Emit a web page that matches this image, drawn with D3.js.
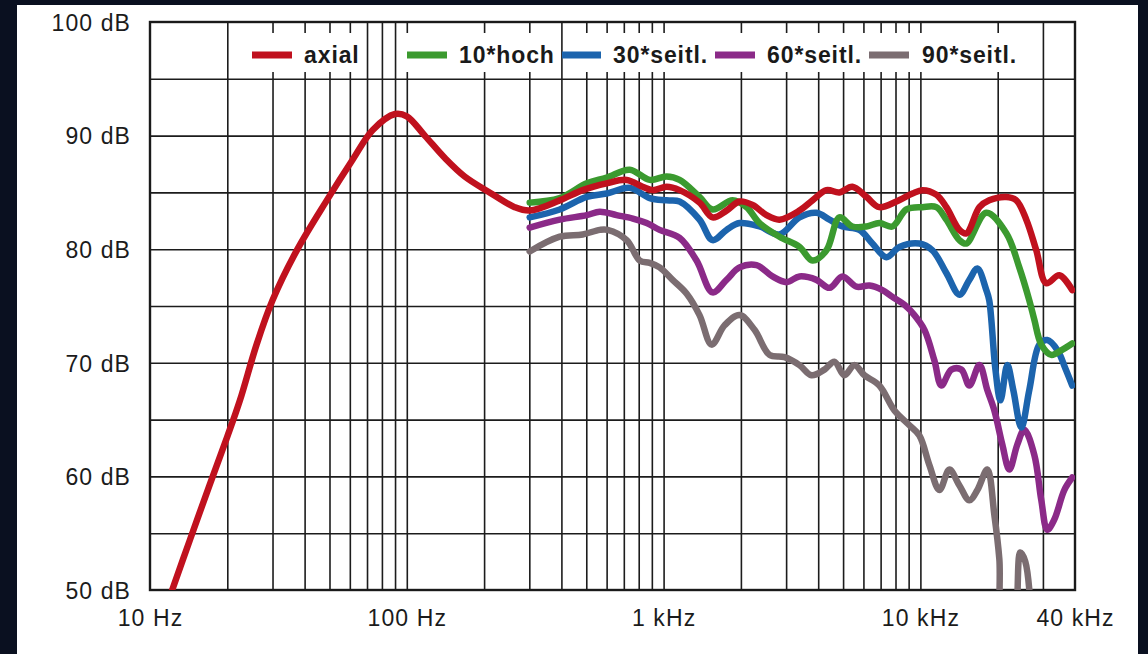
<!DOCTYPE html>
<html><head><meta charset="utf-8">
<script src="https://cdn.jsdelivr.net/npm/d3@7"></script>
<style>
html,body{margin:0;padding:0;background:#0a1020;}
svg{display:block;}
</style></head>
<body>
<svg id="chart" width="1148" height="654"></svg>
<script>
// ---------- data ----------
const xTickValues = [10, 100, 1000, 10000, 40000];
const xTickLabels = ["10 Hz", "100 Hz", "1 kHz", "10 kHz", "40 kHz"];
const yTickValues = [100, 90, 80, 70, 60, 50];
const yTickLabels = ["100 dB", "90 dB", "80 dB", "70 dB", "60 dB", "50 dB"];
const xGridValues = [20,30,40,50,60,70,80,90,100,200,300,400,500,600,700,800,900,1000,2000,3000,4000,5000,6000,7000,8000,9000,10000,20000,30000];
const yGridValues = [55,60,65,70,75,80,85,90,95];
const seriesNames = ["axial", "10*hoch", "30*seitl.", "60*seitl.", "90*seitl."];

const axial = [[12.2,50],[14.3,54.4],[17.1,59.3],[20,63.5],[22.4,66.7],[26,71.6],[30,75.5],[37.3,79.9],[48.8,84.3],[61.6,87.9],[73.7,90.5],[90,91.9],[100,91.7],[117.5,90.0],[141,88.0],[168,86.4],[210,85.0],[263,83.7],[301,83.4],[394,84.3],[484,85.2],[600,85.8],[718,86.1],[828,85.5],[906,85.2],[1028,85.5],[1154,85.2],[1380,84.1],[1552,82.8],[1758,83.4],[1976,84.2],[2220,83.9],[2516,83.0],[2826,82.6],[3381,83.4],[3800,84.3],[4307,85.2],[4840,85.0],[5435,85.5],[6166,84.6],[6920,83.7],[8070,84.2],[9311,84.9],[10186,85.2],[11535,84.8],[12620,83.7],[14190,81.7],[15100,81.4],[16980,83.7],[18540,84.3],[21610,84.6],[23640,84.3],[25850,82.6],[28270,79.9],[30920,77.0],[34750,77.7],[39020,76.4]];
const hoch10 = [[301,84.1],[394,84.5],[502,85.8],[600,86.3],[738,87.0],[883,86.1],[1027,86.4],[1154,86.1],[1380,84.6],[1551,83.5],[1856,84.3],[2104,83.7],[2364,82.3],[2826,81.1],[3381,80.2],[3800,79.0],[4307,79.9],[4840,82.8],[5435,82.0],[6166,82.0],[6920,82.3],[7780,82.0],[8822,83.5],[10186,83.7],[11535,83.7],[12620,82.6],[14190,80.8],[15100,80.5],[18060,83.2],[21610,81.4],[24270,78.4],[26550,75.5],[27770,73.8],[29570,71.6],[32340,70.7],[35370,71.1],[39020,71.7]];
const seitl30 = [[301,82.8],[394,83.5],[502,84.6],[600,84.9],[738,85.4],[883,84.5],[1027,84.3],[1154,84.2],[1380,82.6],[1551,80.8],[1758,81.7],[1976,82.3],[2364,82.0],[2826,81.3],[3381,82.8],[3938,83.2],[4426,82.6],[4972,82.0],[5789,81.7],[6504,80.5],[7375,79.3],[8285,80.2],[9910,80.5],[11140,79.9],[12620,77.9],[14190,76.0],[15510,77.3],[16670,78.3],[18060,76.4],[18540,75.5],[19600,69.4],[20500,66.7],[21810,69.8],[23000,67.6],[24720,64.3],[26550,67.6],[29040,71.6],[31190,72.0],[34200,71.1],[36700,69.5],[39020,68.0]];
const seitl60 = [[301,81.9],[394,82.6],[502,83.0],[564,83.3],[656,83.0],[759,82.7],[859,82.3],[965,81.7],[1154,81.0],[1344,79.0],[1551,76.2],[1758,77.3],[1976,78.4],[2301,78.6],[2655,77.6],[3010,77.1],[3381,77.6],[3938,77.3],[4426,76.6],[4972,77.6],[5636,76.7],[6334,76.8],[7113,76.4],[7780,75.8],[8665,75.1],[9477,74.2],[10370,72.9],[11340,70.2],[12070,68.0],[13200,69.4],[14440,69.4],[15510,68.0],[16980,69.8],[18220,67.6],[19410,65.8],[20850,62.8],[22200,60.6],[23840,62.8],[25390,64.1],[27770,61.9],[29570,57.9],[31190,55.3],[33220,56.2],[36340,58.8],[39020,59.9]];
const seitl90 = [[301,79.8],[394,81.1],[484,81.3],[564,81.7],[605,81.7],[718,80.8],[808,79.0],[883,78.8],[965,78.4],[1084,77.3],[1228,76.1],[1380,74.2],[1538,71.6],[1728,73.3],[1976,74.2],[2260,72.9],[2585,70.7],[2957,70.5],[3381,69.8],[3767,68.9],[4230,69.4],[4625,70.1],[5058,68.9],[5535,69.8],[6054,68.9],[6920,68.0],[7924,65.8],[9060,64.5],[9910,63.6],[10840,61.0],[11860,58.8],[12970,60.6],[14190,59.2],[15510,57.9],[16670,58.8],[18220,60.6],[19410,56.6],[20300,52.7],[21000,46],[22800,46],[24490,53.3],[25620,52.5],[27280,46]];

const seriesData = [axial, hoch10, seitl30, seitl60, seitl90];
const seriesColors = ["#c0111e", "#3b9a2f", "#1c64ad", "#8b2a88", "#7b6d71"];

// ---------- layout ----------
const svg = d3.select("#chart");
const W = 1148, H = 654;
const L = 150, R = 1075, T = 22, B = 590;
const font = "'Liberation Sans', Arial, Helvetica, sans-serif";

svg.append("rect").attr("width", W).attr("height", H).attr("fill", "#0a1020");
svg.append("rect").attr("x", 17).attr("y", 5).attr("width", 1121).attr("height", 649).attr("fill", "#ffffff");

const x = d3.scaleLog().domain([10, 40000]).range([L, R]);
const y = d3.scaleLinear().domain([50, 100]).range([B, T]);

// grid
const gx = svg.append("g").attr("transform", `translate(0,${B})`)
  .call(d3.axisBottom(x).tickValues(xGridValues).tickSize(-(B - T)).tickFormat(""));
gx.select(".domain").remove();
gx.selectAll("line").attr("stroke", "#1c1c1c").attr("stroke-width", 1.6);

const gy = svg.append("g").attr("transform", `translate(${L},0)`)
  .call(d3.axisLeft(y).tickValues(yGridValues).tickSize(-(R - L)).tickFormat(""));
gy.select(".domain").remove();
gy.selectAll("line").attr("stroke", "#1c1c1c").attr("stroke-width", 1.6);

// legend backgrounds (cover the grid except small ticks)
const legendBoxes = [[236, 362], [399, 559], [566, 1036]];
legendBoxes.forEach(b => {
  svg.append("rect").attr("x", b[0]).attr("y", 33).attr("width", b[1] - b[0]).attr("height", 39).attr("fill", "#fff");
});

// frame
svg.append("rect").attr("x", L).attr("y", T).attr("width", R - L).attr("height", B - T)
  .attr("fill", "none").attr("stroke", "#1a1a1a").attr("stroke-width", 2.4);

// axis labels
const ax = svg.append("g").attr("transform", `translate(0,${B})`)
  .call(d3.axisBottom(x).tickValues(xTickValues).tickSize(0).tickPadding(0)
    .tickFormat((d, i) => xTickLabels[i]));
ax.select(".domain").remove();
ax.selectAll("text").attr("y", 36).attr("dy", 0)
  .attr("font-family", font).attr("font-size", 23).attr("letter-spacing", 1.1).attr("fill", "#1b1b1b");

const ay = svg.append("g").attr("transform", `translate(131,0)`)
  .call(d3.axisLeft(y).tickValues(yTickValues).tickSize(0).tickPadding(0)
    .tickFormat((d, i) => yTickLabels[i]));
ay.select(".domain").remove();
ay.selectAll("text").attr("x", 0).attr("dy", "0.36em")
  .attr("font-family", font).attr("font-size", 23).attr("letter-spacing", 1.1).attr("fill", "#1b1b1b");

// curves
svg.append("clipPath").attr("id", "plotclip").append("rect")
  .attr("x", L).attr("y", T).attr("width", R - L).attr("height", B - T);

const line = d3.line().x(d => x(d[0])).y(d => y(d[1])).curve(d3.curveCatmullRom.alpha(0.5));
const curves = svg.append("g").attr("clip-path", "url(#plotclip)");
for (let i = seriesData.length - 1; i >= 0; i--) {
  curves.append("path").datum(seriesData[i]).attr("d", line)
    .attr("fill", "none").attr("stroke", seriesColors[i]).attr("stroke-width", 6.5)
    .attr("stroke-linejoin", "round").attr("stroke-linecap", "round");
}

// legend
const legendItems = [[252, 292, 304], [407, 447, 459], [562, 601, 613], [715, 755, 767], [869, 909, 922]];
const lg = svg.append("g");
seriesNames.forEach((n, i) => {
  const p = legendItems[i];
  lg.append("line").attr("x1", p[0]).attr("x2", p[1]).attr("y1", 55).attr("y2", 55)
    .attr("stroke", seriesColors[i]).attr("stroke-width", 7);
  lg.append("text").attr("x", p[2]).attr("y", 63).text(n)
    .attr("font-family", font).attr("font-weight", "bold").attr("font-size", 23)
    .attr("letter-spacing", 0.9).attr("fill", "#1a1a1a");
});
</script>
</body></html>
